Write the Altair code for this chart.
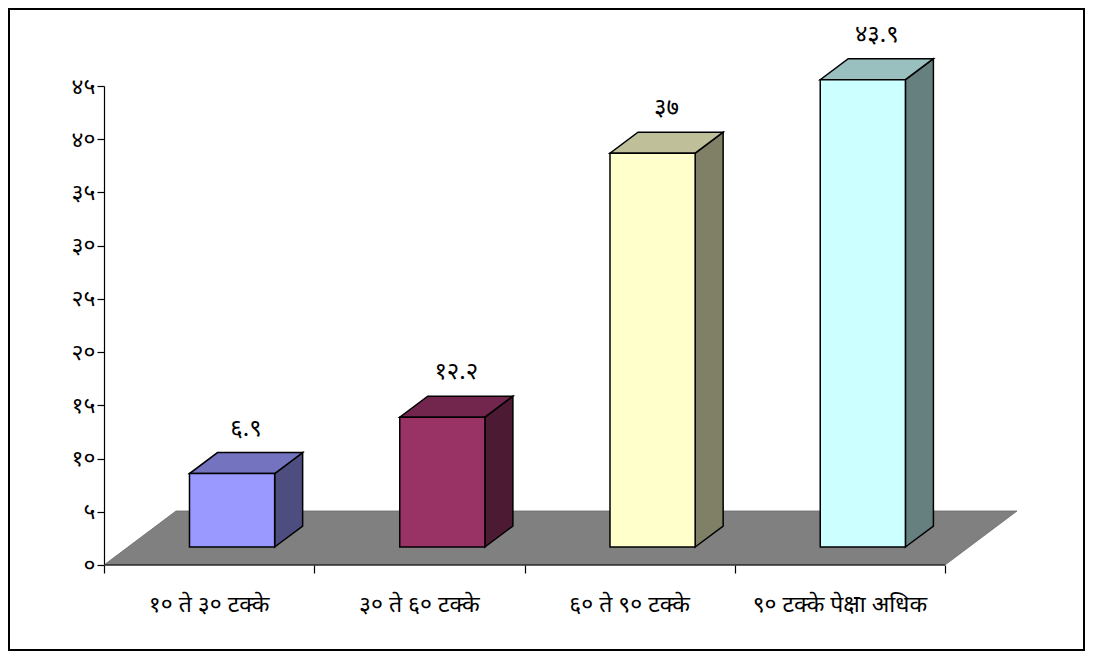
import altair as alt
import pandas as pd

# ---- data ----
categories = ["१० ते ३० टक्के", "३० ते ६० टक्के", "६० ते ९० टक्के", "९० टक्के पेक्षा अधिक"]
values = [6.9, 12.2, 37, 43.9]
front_colors = ["#9999FF", "#993366", "#FFFFCC", "#CCFFFF"]
top_colors = ["#7373BF", "#73264D", "#BFBF99", "#99BFBF"]
side_colors = ["#4D4D80", "#4D1A33", "#808066", "#668080"]
y_ticks = [0, 5, 10, 15, 20, 25, 30, 35, 40, 45]

DEV = str.maketrans("0123456789", "०१२३४५६७८९")


def dev(v):
    return f"{v:g}".translate(DEV)


# ---- 3D geometry (style constants, in scale units) ----
W, H = 913, 479
YMAX = 45
kx = 210.25            # px per category band
ky = H / YMAX          # px per value unit
FDX, FDY = 72 / kx, 54 / ky   # floor depth
BDX, BDY = 28 / kx, 21 / ky   # bar depth
OX, OY = 24 / kx, 18 / ky     # bar front offset from floor front
C, BW = 0.495, 0.405          # bar centre / width in band
XMAX = W / kx
N = len(categories)

front_rows, top_rows, side_rows, lab_rows = [], [], [], []
for i, (cat, v) in enumerate(zip(categories, values)):
    xl = i + C - BW / 2 + OX
    xr = i + C + BW / 2 + OX
    yb = OY
    yt = OY + v
    front_rows.append(dict(cat=cat, x=xl, x2=xr, y=yb, y2=yt, col=front_colors[i]))
    for x, y, y2 in [(xl, yt, yt), (xl + BDX, yt, yt + BDY), (xr, yt, yt + BDY), (xr + BDX, yt + BDY, yt + BDY)]:
        top_rows.append(dict(cat=cat, x=x, y=y, y2=y2, col=top_colors[i]))
    for x, y, y2 in [(xr, yb, yt), (xr + BDX, yb + BDY, yt + BDY)]:
        side_rows.append(dict(cat=cat, x=x, y=y, y2=y2, col=side_colors[i]))
    lab_rows.append(dict(x=(xl + xr) / 2 + BDX / 2, y=yt + BDY, t=dev(v)))

floor_rows = [dict(x=0, y=0, y2=0), dict(x=FDX, y=0, y2=FDY),
              dict(x=N, y=0, y2=FDY), dict(x=N + FDX, y=FDY, y2=FDY)]
cat_rows = [dict(x=i + 0.5, t=c) for i, c in enumerate(categories)]

FONT = "Noto Sans"
xs = alt.Scale(domain=[0, XMAX], nice=False, zero=False)
ys = alt.Scale(domain=[0, YMAX], nice=False, zero=True)

tick_arr = "[" + ",".join(f"'{dev(t)}'" for t in y_ticks) + "]"

floor = alt.Chart(pd.DataFrame(floor_rows)).mark_area(
    color="#808080", stroke="#6a6a6a", strokeWidth=0.8
).encode(
    x=alt.X("x:Q", scale=xs, axis=alt.Axis(values=list(range(N + 1)), labels=False, domain=False,
                                            tickSize=8, tickColor="black", grid=False, title=None)),
    y=alt.Y("y:Q", scale=ys, axis=alt.Axis(values=y_ticks, labelExpr=f"{tick_arr}[datum.value/5]",
                                            tickSize=7, tickColor="black", domainColor="black",
                                            labelFontSize=23, labelFont=FONT, labelColor="black",
                                            labelPadding=2, grid=False, title=None)),
    y2="y2:Q",
)

xline = alt.Chart(pd.DataFrame([dict(x=0, x2=N, y=0)])).mark_rule(color="black", strokeWidth=1.2).encode(
    x=alt.X("x:Q", scale=xs), x2="x2:Q", y=alt.Y("y:Q", scale=ys)
)

sides = alt.Chart(pd.DataFrame(side_rows)).mark_area(stroke="black", strokeWidth=1.5, strokeJoin="miter").encode(
    x=alt.X("x:Q", scale=xs), y=alt.Y("y:Q", scale=ys), y2="y2:Q",
    detail="cat:N", color=alt.Color("col:N", scale=None),
)

tops = alt.Chart(pd.DataFrame(top_rows)).mark_area(stroke="black", strokeWidth=1.5, strokeJoin="miter").encode(
    x=alt.X("x:Q", scale=xs), y=alt.Y("y:Q", scale=ys), y2="y2:Q",
    detail="cat:N", color=alt.Color("col:N", scale=None),
)

fronts = alt.Chart(pd.DataFrame(front_rows)).mark_rect(stroke="black", strokeWidth=1.5).encode(
    x=alt.X("x:Q", scale=xs), x2="x2:Q", y=alt.Y("y:Q", scale=ys), y2="y2:Q",
    color=alt.Color("col:N", scale=None),
)

vlabels = alt.Chart(pd.DataFrame(lab_rows)).mark_text(
    fontSize=24, font=FONT, color="black", baseline="middle", dy=-24
).encode(x=alt.X("x:Q", scale=xs), y=alt.Y("y:Q", scale=ys), text="t:N")

clabels = alt.Chart(pd.DataFrame(cat_rows)).mark_text(
    fontSize=23, font=FONT, color="black", baseline="middle", dy=40
).encode(x=alt.X("x:Q", scale=xs), y=alt.datum(0, scale=ys), text="t:N")

frame = alt.Chart(pd.DataFrame([dict(a=1)])).mark_rect(
    fillOpacity=0, stroke="black", strokeWidth=2
).encode(x=alt.value(-95), x2=alt.value(980), y=alt.value(-77), y2=alt.value(564))

chart = alt.layer(floor, xline, sides, tops, fronts, vlabels, clabels, frame).properties(
    width=W, height=H,
    autosize=alt.AutoSizeParams(type="none"),
    padding={"left": 96, "top": 78, "right": 68, "bottom": 86},
).configure_view(stroke=None).configure_axis(domainWidth=1.2, tickWidth=1.2)

chart.save("out.html", embed_options={"renderer": "svg", "actions": False})
